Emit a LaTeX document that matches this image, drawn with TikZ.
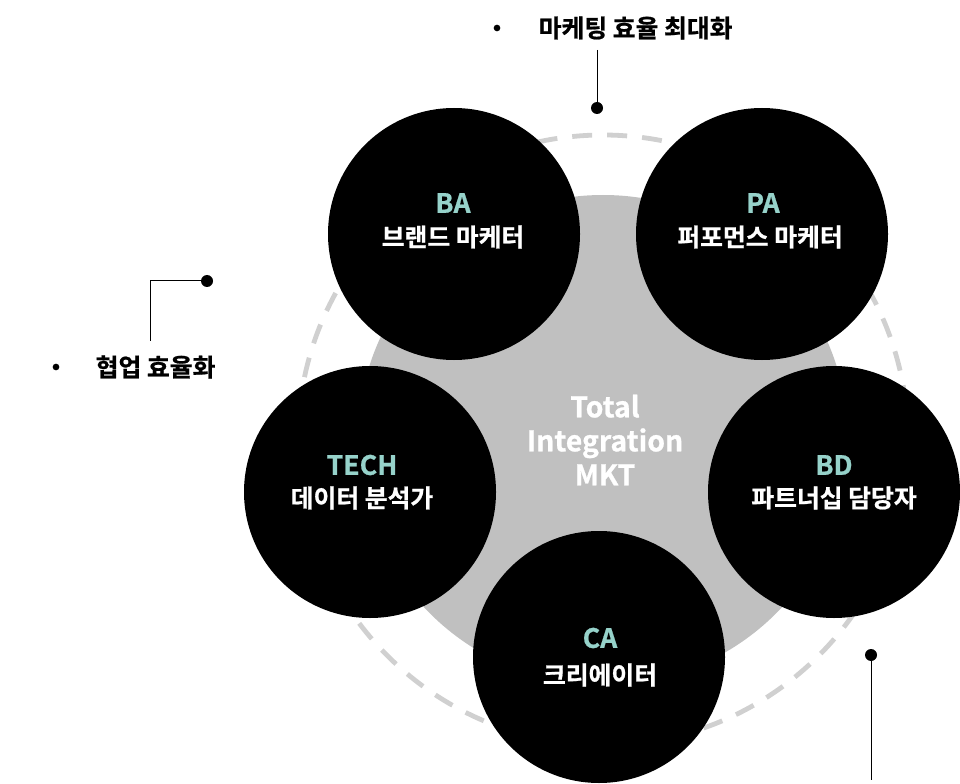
\documentclass[tikz,border=0pt]{standalone}
\usepackage{fontspec}
\newfontfamily\kr{Noto Sans CJK KR}[BoldFont={* Bold}, BoldFeatures={FakeBold=0.8}]
\definecolor{hubgray}{HTML}{C0C0C0}
\definecolor{ringgray}{HTML}{D0D0D0}
\definecolor{tealtxt}{HTML}{96D2CA}
\tikzset{
  rolecircle/.style={circle, fill=black, minimum size=189pt, inner sep=0pt},
  roletitle/.style={text=tealtxt, font=\kr\bfseries\fontsize{20}{24}\selectfont},
  rolename/.style={text=white, font=\kr\bfseries\fontsize{18.6}{22}\selectfont},
  outlabel/.style={text=black, font=\kr\bfseries\fontsize{18.6}{22}\selectfont, anchor=west},
  bulletdot/.style={circle, fill=black, minimum size=5pt, inner sep=0pt},
  enddot/.style={circle, fill=black, minimum size=9pt, inner sep=0pt},
  leader/.style={draw=black, line width=0.75pt},
}
\begin{document}
\begin{tikzpicture}[x=0.75pt,y=-0.75pt]
\useasboundingbox (0,0) rectangle (960,784);
\begin{scope}
\clip (0,0) rectangle (960,784);
% hub
\node[circle, fill=hubgray, minimum size=367.5pt, inner sep=0pt] (hub) at (603,440) {};
% dashed ring
\draw[ringgray, line width=3.6pt, dash pattern=on 15pt off 11.25pt] (hub.center) circle[radius=228.75pt];
% role circles
\node[rolecircle] (ba) at (454,234) {};
\node[rolecircle] (pa) at (762,234) {};
\node[rolecircle] (tech) at (370,492) {};
\node[rolecircle] (bd) at (834,492) {};
\node[rolecircle] (ca) at (599,657) {};
\end{scope}
% hub text
\node[text=white, font=\kr\bfseries\fontsize{21.3}{25.5}\selectfont, align=center] (hubtxt) at (605,440) {Total\\Integration\\MKT};
% role texts
\node[roletitle] (batitle) at (453,203) {BA};
\node[rolename] (baname) at (453,237) {브랜드 마케터};
\node[roletitle] (patitle) at (763,203) {PA};
\node[rolename] (paname) at (760,237) {퍼포먼스 마케터};
\node[roletitle] (techtitle) at (362,465) {TECH};
\node[rolename] (techname) at (362,498) {데이터 분석가};
\node[roletitle] (bdtitle) at (834,465) {BD};
\node[rolename] (bdname) at (834,498) {파트너십 담당자};
\node[roletitle] (catitle) at (600,638) {CA};
\node[rolename] (caname) at (600,675) {크리에이터};
% outer labels
\node[bulletdot] (b1) at (497,28) {};
\node[outlabel] (lab1) at (534,28) {마케팅 효율 최대화};
\node[bulletdot] (b2) at (56,367) {};
\node[outlabel] (lab2) at (91,367) {협업 효율화};
% leaders
\node[enddot] (d1) at (597,108) {};
\coordinate (t1) at (597,50);
\draw[leader] (t1) -- (d1.center);
\node[enddot] (d2) at (207,281) {};
\coordinate (c2) at (150,281);
\coordinate (t2) at (150,341);
\draw[leader] (d2.center) -- (c2) -- (t2);
\node[enddot] (d3) at (871,655) {};
\coordinate (t3) at (871,780);
\draw[leader] (d3.center) -- (t3);
\end{tikzpicture}
\end{document}
